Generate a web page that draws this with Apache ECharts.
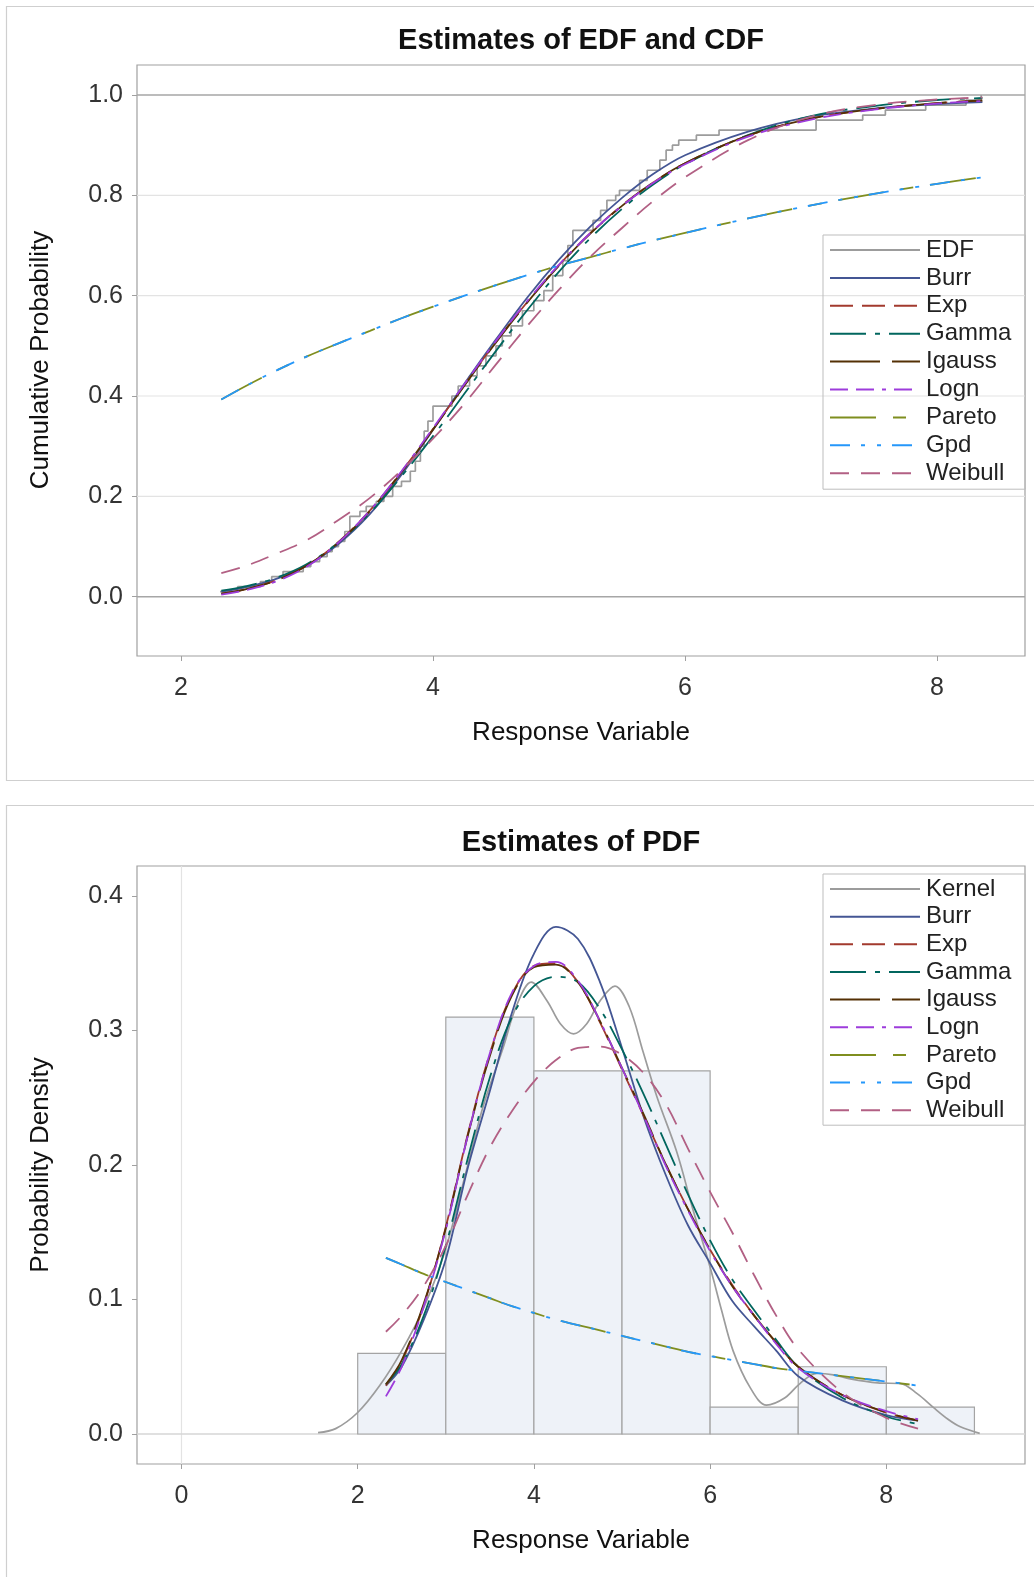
<!DOCTYPE html>
<html><head><meta charset="utf-8">
<script src="https://cdn.jsdelivr.net/npm/echarts@6/dist/echarts.min.js"></script>
<style>html,body{margin:0;padding:0;background:#fff}#c{width:1034px;height:1577px}</style>
</head><body><div id="c"></div>
<script>
// ---------- DATA ----------
const edfX = [2.31,2.45,2.63,2.72,2.81,2.97,3.03,3.10,3.16,3.20,3.25,3.30,3.34,3.42,3.47,3.55,3.61,3.68,3.75,3.82,3.86,3.90,3.93,3.96,4.00,4.15,4.20,4.29,4.35,4.42,4.50,4.55,4.62,4.71,4.80,4.88,4.95,5.03,5.07,5.11,5.27,5.33,5.38,5.45,5.48,5.64,5.70,5.80,5.85,5.90,5.95,6.09,6.27,7.04,7.41,7.59,7.91,8.23,8.35];
const edfY = [0.01,0.02,0.03,0.04,0.05,0.06,0.07,0.08,0.09,0.10,0.11,0.13,0.16,0.17,0.18,0.19,0.20,0.22,0.23,0.25,0.27,0.30,0.33,0.35,0.38,0.40,0.42,0.44,0.46,0.48,0.50,0.52,0.54,0.57,0.59,0.61,0.64,0.67,0.70,0.73,0.75,0.77,0.79,0.80,0.81,0.83,0.85,0.87,0.89,0.90,0.91,0.92,0.93,0.95,0.96,0.97,0.98,0.99,1.00];

const cdfX = [2.32,2.5,2.75,3.0,3.25,3.5,3.75,4.0,4.25,4.5,4.75,5.0,5.25,5.5,5.75,6.0,6.5,7.0,7.5,8.0,8.36];
const cdfBurr    = [0.010,0.018,0.035,0.062,0.105,0.165,0.243,0.333,0.425,0.513,0.597,0.672,0.738,0.795,0.843,0.880,0.927,0.957,0.973,0.982,0.986];
const cdfExp     = [0.006,0.014,0.032,0.062,0.109,0.172,0.249,0.334,0.422,0.508,0.588,0.661,0.725,0.780,0.826,0.864,0.919,0.953,0.972,0.984,0.989];
const cdfGamma   = [0.012,0.020,0.037,0.065,0.108,0.167,0.240,0.320,0.405,0.490,0.572,0.648,0.715,0.773,0.822,0.862,0.920,0.958,0.978,0.990,0.994];
const cdfIgauss  = [0.006,0.014,0.032,0.062,0.108,0.171,0.248,0.333,0.421,0.507,0.587,0.660,0.724,0.779,0.826,0.864,0.919,0.953,0.972,0.984,0.989];
const cdfLogn    = [0.004,0.012,0.030,0.060,0.108,0.172,0.250,0.336,0.424,0.510,0.590,0.662,0.725,0.779,0.825,0.862,0.917,0.951,0.971,0.983,0.988];
const cdfPareto  = [0.393,0.418,0.450,0.479,0.505,0.530,0.555,0.578,0.600,0.621,0.641,0.660,0.677,0.694,0.710,0.725,0.754,0.780,0.803,0.823,0.836];
const cdfGpd     = [0.393,0.418,0.450,0.479,0.505,0.530,0.555,0.578,0.600,0.621,0.641,0.660,0.677,0.694,0.710,0.725,0.754,0.780,0.803,0.823,0.836];
const cdfWeibull = [0.047,0.060,0.085,0.113,0.153,0.197,0.252,0.315,0.385,0.463,0.540,0.612,0.678,0.735,0.789,0.836,0.910,0.957,0.980,0.991,0.995];

const pdfX = [2.32,2.5,2.75,3.0,3.25,3.5,3.75,4.0,4.25,4.5,4.75,5.0,5.25,5.5,5.75,6.0,6.25,6.5,6.75,7.0,7.5,8.0,8.36];
const pdfBurr    = [0.036,0.050,0.085,0.130,0.198,0.255,0.313,0.357,0.377,0.368,0.336,0.287,0.235,0.192,0.155,0.127,0.099,0.080,0.062,0.043,0.025,0.014,0.010];
const pdfExp     = [0.036,0.054,0.096,0.154,0.223,0.283,0.327,0.348,0.350,0.336,0.306,0.271,0.236,0.200,0.167,0.137,0.111,0.088,0.068,0.050,0.029,0.016,0.010];
const pdfGamma   = [0.037,0.052,0.088,0.140,0.205,0.265,0.310,0.333,0.340,0.336,0.316,0.286,0.252,0.215,0.178,0.144,0.115,0.092,0.070,0.050,0.027,0.013,0.0075];
const pdfIgauss  = [0.037,0.055,0.097,0.153,0.222,0.281,0.326,0.347,0.349,0.336,0.307,0.272,0.237,0.200,0.167,0.137,0.110,0.088,0.068,0.050,0.029,0.016,0.010];
const pdfLogn    = [0.028,0.050,0.095,0.152,0.222,0.283,0.328,0.348,0.351,0.337,0.307,0.272,0.236,0.199,0.166,0.136,0.110,0.088,0.067,0.049,0.029,0.017,0.011];
const pdfPareto  = [0.131,0.126,0.119,0.113,0.107,0.101,0.095,0.090,0.085,0.081,0.077,0.073,0.069,0.065,0.061,0.058,0.055,0.052,0.049,0.047,0.043,0.039,0.036];
const pdfGpd     = [0.131,0.126,0.119,0.113,0.107,0.101,0.095,0.090,0.085,0.081,0.077,0.073,0.069,0.065,0.061,0.058,0.055,0.052,0.049,0.047,0.043,0.039,0.036];
const pdfWeibull = [0.076,0.088,0.110,0.140,0.178,0.213,0.240,0.262,0.278,0.287,0.288,0.282,0.268,0.245,0.212,0.180,0.150,0.118,0.088,0.063,0.031,0.012,0.004];

const kernelX = [1.55,1.75,2.0,2.25,2.5,2.75,3.0,3.25,3.43,3.65,3.8,3.97,4.15,4.3,4.45,4.6,4.75,4.92,5.08,5.24,5.4,5.62,5.8,6.0,6.13,6.26,6.45,6.64,6.85,7.02,7.21,7.4,7.59,7.9,8.16,8.35,8.53,8.7,8.84,9.06];
const kernelY = [0.001,0.004,0.016,0.036,0.062,0.094,0.138,0.2,0.245,0.287,0.318,0.336,0.322,0.305,0.2975,0.305,0.322,0.333,0.318,0.284,0.25,0.21,0.168,0.124,0.092,0.062,0.035,0.0215,0.027,0.0375,0.045,0.044,0.041,0.038,0.0375,0.03,0.02,0.011,0.0054,0.0005];

const binStart   = [2,3,4,5,6,7,8];
const binEnd     = [3,4,5,6,7,8,9];
const binDensity = [0.06,0.31,0.27,0.27,0.02,0.05,0.02];

const cdfTicksX = [2,4,6,8];
const cdfTicksY = [0,0.2,0.4,0.6,0.8,1.0];
const pdfTicksX = [0,2,4,6,8];
const pdfTicksY = [0,0.1,0.2,0.3,0.4];
const cdfGridLines = [0.2,0.4,0.6,0.8];
const cdfRefLines = [0,1];
const pdfRefY = [0];
const pdfRefX = [0];

const cdfLegend = ['EDF','Burr','Exp','Gamma','Igauss','Logn','Pareto','Gpd','Weibull'];
const pdfLegend = ['Kernel','Burr','Exp','Gamma','Igauss','Logn','Pareto','Gpd','Weibull'];

// ---------- STYLE ----------
const FONT = '"Liberation Sans", Arial, sans-serif';
const ST = {
  EDF:{color:'#9c9c9c',type:'solid',width:1.7},
  Kernel:{color:'#9c9c9c',type:'solid',width:1.7},
  Burr:{color:'#445694',type:'solid',width:1.8},
  Exp:{color:'#A23A2E',type:[23,9],width:1.8},
  Gamma:{color:'#01665E',type:[36,9,5,9],width:1.8},
  Igauss:{color:'#543005',type:[50,12],width:1.8},
  Logn:{color:'#9D3CDB',type:[18,8,18,8,4,8],width:1.8},
  Pareto:{color:'#7F8E1F',type:[46,17,13,17],width:1.8},
  Gpd:{color:'#2597FA',type:[20,11,4,12,4,11],width:1.8},
  Weibull:{color:'#B26084',type:[19,12],width:1.8}
};
const X1 = {min:1.651,max:8.698}, Y1 = {min:-0.1182,max:1.0598};
const X2 = {min:-0.505,max:9.574}, Y2 = {min:-0.0223,max:0.4223};

function line(name, xs, ys, gi, extra) {
  const s = ST[name];
  return Object.assign({
    type:'line', name, xAxisIndex:gi, yAxisIndex:gi,
    data: xs.map((x,i)=>[x, ys[i]]),
    symbol:'none', showSymbol:false, smooth:0.35, silent:true, z:3,
    lineStyle:{color:s.color, width:s.width, type:s.type},
    itemStyle:{color:s.color}
  }, extra||{});
}
function hRef(gi, vals, xmin, color, width) {
  return {type:'custom', xAxisIndex:gi, yAxisIndex:gi, silent:true, z:1,
    data: vals.map(v=>[xmin, v]), encode:{x:0,y:1},
    renderItem:(params, api)=>{
      const cs = params.coordSys;
      const y = api.coord([api.value(0), api.value(1)])[1];
      return {type:'line', shape:{x1:cs.x, y1:y, x2:cs.x+cs.width, y2:y}, style:{stroke:color, lineWidth:width}};
    }};
}
function vRef(gi, vals, ymin, color, width) {
  return {type:'custom', xAxisIndex:gi, yAxisIndex:gi, silent:true, z:1,
    data: vals.map(v=>[v, ymin]), encode:{x:0,y:1},
    renderItem:(params, api)=>{
      const cs = params.coordSys;
      const x = api.coord([api.value(0), api.value(1)])[0];
      return {type:'line', shape:{x1:x, y1:cs.y, x2:x, y2:cs.y+cs.height}, style:{stroke:color, lineWidth:width}};
    }};
}
function axis(gi, rng, ticks, fmt, margin) {
  return {type:'value', gridIndex:gi, min:rng.min, max:rng.max,
    axisLine:{show:false, onZero:false}, splitLine:{show:false},
    axisTick:{show:true, length:5, customValues:ticks, lineStyle:{color:'#a0a0a0', width:1}},
    axisLabel:{customValues:ticks, formatter:fmt, margin, fontFamily:FONT, fontSize:25, color:'#333'}};
}
const f1 = v => v.toFixed(1), f0 = v => String(Math.round(v));

function legend(names, top, pt, pb, gap) {
  return {data:names, orient:'vertical', left:823, top, itemWidth:90, itemHeight:22, itemGap:gap,
    padding:[pt,14,pb,6], borderColor:'#bdbdbd', borderWidth:1, selectedMode:false,
    itemStyle:{opacity:0, borderWidth:0},
    textStyle:{fontFamily:FONT, fontSize:24, color:'#222', lineHeight:22, padding:[0,0,0,1]}};
}

const txt = (x,y,text,size,bold,rot) => ({type:'text', x, y, rotation:rot||0, silent:true,
  style:{text, font:(bold?'bold ':'')+size+'px '+FONT, fill:'#111', align:'center', verticalAlign:'middle'}});

const hist = {type:'custom', xAxisIndex:1, yAxisIndex:1, silent:true, z:2,
  data: binStart.map((s,i)=>[s, binEnd[i], binDensity[i]]), encode:{x:[0,1], y:2},
  renderItem:(params, api)=>{
    const p0 = api.coord([api.value(0), api.value(2)]);
    const p1 = api.coord([api.value(1), 0]);
    return {type:'rect', shape:{x:p0[0], y:p0[1], width:p1[0]-p0[0], height:p1[1]-p0[1]},
      style:{fill:'#eef2f8', stroke:'#a4a4a4', lineWidth:1.2}};
  }};

const option = {
  animation:false, backgroundColor:'#fff',
  grid:[
    {left:137, right:9, top:65, bottom:1577-656, show:true, borderColor:'#a0a0a0', borderWidth:1.2},
    {left:137, right:9, top:866, bottom:1577-1464, show:true, borderColor:'#a0a0a0', borderWidth:1.2}
  ],
  xAxis:[axis(0, X1, cdfTicksX, f0, 20), axis(1, X2, pdfTicksX, f0, 20)],
  yAxis:[axis(0, Y1, cdfTicksY, f1, 14), axis(1, Y2, pdfTicksY, f1, 14)],
  legend:[legend(cdfLegend, 235, 3, 4, 3.9), legend(pdfLegend, 874, 3, 3, 3.65)],
  graphic:[
    {type:'rect', silent:true, shape:{x:6.5, y:6.5, width:1040, height:774}, style:{fill:'none', stroke:'#cfcfcf', lineWidth:1.2}},
    {type:'rect', silent:true, shape:{x:6.5, y:805.5, width:1040, height:800}, style:{fill:'none', stroke:'#cfcfcf', lineWidth:1.2}},
    txt(581, 41, 'Estimates of EDF and CDF', 29, true),
    txt(581, 843, 'Estimates of PDF', 29, true),
    txt(581, 733, 'Response Variable', 26),
    txt(581, 1541, 'Response Variable', 26),
    txt(41, 360, 'Cumulative Probability', 26, false, Math.PI/2),
    txt(41, 1165, 'Probability Density', 26, false, Math.PI/2)
  ],
  series:[
    hRef(0, cdfGridLines, 2, '#e3e3e3', 1.2),
    hRef(0, cdfRefLines, 2, '#a6a6a6', 1.4),
    line('EDF', edfX, edfY, 0, {smooth:false, step:'end'}),
    line('Burr', cdfX, cdfBurr, 0),
    line('Exp', cdfX, cdfExp, 0),
    line('Gamma', cdfX, cdfGamma, 0),
    line('Igauss', cdfX, cdfIgauss, 0),
    line('Logn', cdfX, cdfLogn, 0),
    line('Pareto', cdfX, cdfPareto, 0),
    line('Gpd', cdfX, cdfGpd, 0),
    line('Weibull', cdfX, cdfWeibull, 0),

    vRef(1, pdfRefX, 0, '#e3e3e3', 1.2),
    hRef(1, pdfRefY, 2, '#d6d6d6', 1.4),
    hist,
    line('Kernel', kernelX, kernelY, 1),
    line('Burr', pdfX, pdfBurr, 1),
    line('Exp', pdfX, pdfExp, 1),
    line('Gamma', pdfX, pdfGamma, 1),
    line('Igauss', pdfX, pdfIgauss, 1),
    line('Logn', pdfX, pdfLogn, 1),
    line('Pareto', pdfX, pdfPareto, 1),
    line('Gpd', pdfX, pdfGpd, 1),
    line('Weibull', pdfX, pdfWeibull, 1)
  ]
};
const chart = echarts.init(document.getElementById('c'), null, {renderer:'canvas'});
chart.setOption(option);
</script>
</body></html>
